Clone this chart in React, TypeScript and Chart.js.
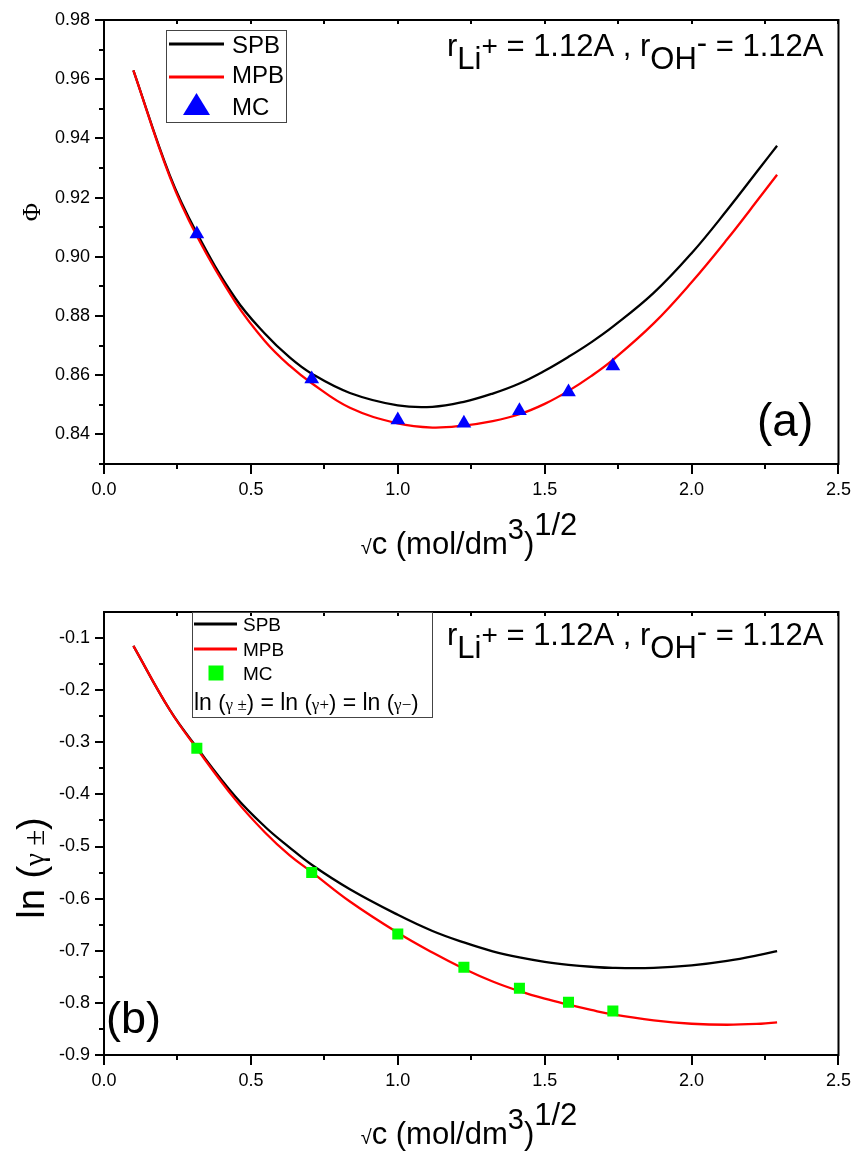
import React, { useEffect, useRef } from 'react';
import { Chart, registerables } from 'chart.js';
Chart.register(...registerables);

// ---- data ----
const sqrtC = [0.1, 0.224, 0.316, 0.447, 0.548, 0.632, 0.707, 0.837, 1.0, 1.118, 1.225, 1.323, 1.414, 1.5, 1.581, 1.658, 1.732, 1.871, 2.0, 2.121, 2.236, 2.291];
const phiSPB = [0.963, 0.9275, 0.908, 0.886, 0.874, 0.866, 0.8605, 0.854, 0.8498, 0.8493, 0.851, 0.8538, 0.8572, 0.8615, 0.8662, 0.8711, 0.8764, 0.8878, 0.9012, 0.9158, 0.9305, 0.9375];
const phiMPB = [0.963, 0.927, 0.907, 0.8847, 0.8715, 0.8632, 0.8573, 0.849, 0.8437, 0.8423, 0.843, 0.8445, 0.8468, 0.8503, 0.8547, 0.8597, 0.8652, 0.8775, 0.8914, 0.9059, 0.9206, 0.9277];
const mcX = [0.316, 0.707, 1.0, 1.225, 1.414, 1.581, 1.732];
const phiMC = [0.9077, 0.8587, 0.8449, 0.8438, 0.848, 0.8543, 0.8631];
const lnSPB = [-0.115, -0.238, -0.31, -0.404, -0.462, -0.502, -0.535, -0.582, -0.631, -0.662, -0.684, -0.701, -0.7128, -0.7212, -0.7269, -0.7307, -0.7329, -0.7328, -0.728, -0.7194, -0.7075, -0.7005];
const lnMPB = [-0.115, -0.238, -0.312, -0.41, -0.473, -0.517, -0.549, -0.6055, -0.6655, -0.7035, -0.7345, -0.759, -0.7775, -0.792, -0.8035, -0.8135, -0.8222, -0.8335, -0.84, -0.842, -0.84, -0.8375];
const lnMC = [-0.3115, -0.55, -0.6677, -0.7316, -0.772, -0.7987, -0.8154];

const xTicks = [0, 0.5, 1.0, 1.5, 2.0, 2.5];
const xMinor = [0.25, 0.75, 1.25, 1.75, 2.25];
const phiTicks = [0.84, 0.86, 0.88, 0.9, 0.92, 0.94, 0.96, 0.98];
const phiMinor = [0.83, 0.85, 0.87, 0.89, 0.91, 0.93, 0.95, 0.97];
const lnTicks = [-0.9, -0.8, -0.7, -0.6, -0.5, -0.4, -0.3, -0.2, -0.1];
const lnMinor = [-0.85, -0.75, -0.65, -0.55, -0.45, -0.35, -0.25, -0.15];

const SANS = '"Liberation Sans", Arial, sans-serif';
const SERIF = '"Liberation Serif", "Times New Roman", serif';
const f = (size: number, fam = SANS) => `${size}px ${fam}`;

type Part = { t: string; font: string; dy?: number };

function partsWidth(ctx: CanvasRenderingContext2D, parts: Part[]) {
  let w = 0;
  for (const p of parts) { ctx.font = p.font; w += ctx.measureText(p.t).width; }
  return w;
}
function drawParts(ctx: CanvasRenderingContext2D, x: number, y: number, parts: Part[], align: 'left' | 'center' | 'right' = 'left') {
  const w = partsWidth(ctx, parts);
  let cx = align === 'center' ? x - w / 2 : align === 'right' ? x - w : x;
  ctx.textAlign = 'left';
  ctx.textBaseline = 'alphabetic';
  for (const p of parts) {
    ctx.font = p.font;
    ctx.fillText(p.t, cx, y + (p.dy || 0));
    cx += ctx.measureText(p.t).width;
  }
}

const annotation: Part[] = [
  { t: 'r', font: f(31) },
  { t: 'Li', font: f(31), dy: 13 },
  { t: '+', font: f(28), dy: -1 },
  { t: ' = 1.12A , r', font: f(31) },
  { t: 'OH', font: f(31), dy: 13 },
  { t: '-', font: f(31), dy: -3 },
  { t: ' = 1.12A', font: f(31) },
];
const xTitle: Part[] = [
  { t: '√', font: f(20) },
  { t: 'c (mol/dm', font: f(31) },
  { t: '3', font: f(29), dy: -15 },
  { t: ')', font: f(31) },
  { t: '1/2', font: f(31), dy: -19 },
];

type Panel = {
  key: string;
  padTop: number;
  xAxisH: number;
  yMin: number; yMax: number;
  yTicks: number[]; yMinor: number[]; yDigits: number;
  spb: number[]; mpb: number[]; mc: number[];
  mcStyle: string; mcRadius: number; mcColor: string;
  decorate: (ctx: CanvasRenderingContext2D) => void;
};

function decorA(ctx: CanvasRenderingContext2D) {
  ctx.strokeStyle = '#444'; ctx.lineWidth = 1;
  ctx.strokeRect(166.5, 30.5, 120, 92);
  ctx.lineWidth = 3;
  ctx.strokeStyle = '#000'; ctx.beginPath(); ctx.moveTo(169, 44); ctx.lineTo(224, 44); ctx.stroke();
  ctx.strokeStyle = '#ff0000'; ctx.beginPath(); ctx.moveTo(169, 77); ctx.lineTo(224, 77); ctx.stroke();
  ctx.fillStyle = '#0000ff'; ctx.beginPath(); ctx.moveTo(183, 115); ctx.lineTo(210, 115); ctx.lineTo(196.5, 93); ctx.closePath(); ctx.fill();
  ctx.fillStyle = '#000';
  drawParts(ctx, 232, 53, [{ t: 'SPB', font: f(24) }]);
  drawParts(ctx, 232, 83, [{ t: 'MPB', font: f(24) }]);
  drawParts(ctx, 232, 115, [{ t: 'MC', font: f(24) }]);
  drawParts(ctx, 447, 56, annotation);
  drawParts(ctx, 757, 436, [{ t: '(a)', font: f(46) }]);
  drawParts(ctx, 469, 554, xTitle, 'center');
  ctx.save(); ctx.translate(32, 212); ctx.rotate(-Math.PI / 2);
  drawParts(ctx, 0, 8, [{ t: 'Φ', font: f(25, SERIF) }], 'center');
  ctx.restore();
}

function decorB(ctx: CanvasRenderingContext2D) {
  ctx.strokeStyle = '#444'; ctx.lineWidth = 1;
  ctx.strokeRect(192.5, 34.5, 240, 105);
  ctx.lineWidth = 3;
  ctx.strokeStyle = '#000'; ctx.beginPath(); ctx.moveTo(194, 46); ctx.lineTo(237, 46); ctx.stroke();
  ctx.strokeStyle = '#ff0000'; ctx.beginPath(); ctx.moveTo(194, 71); ctx.lineTo(237, 71); ctx.stroke();
  ctx.fillStyle = '#00ff00'; ctx.fillRect(208.5, 87.5, 15, 15);
  ctx.fillStyle = '#000';
  drawParts(ctx, 243, 53, [{ t: 'SPB', font: f(19) }]);
  drawParts(ctx, 243, 78, [{ t: 'MPB', font: f(19) }]);
  drawParts(ctx, 243, 102, [{ t: 'MC', font: f(19) }]);
  drawParts(ctx, 194, 132, [
    { t: 'ln ', font: f(23) }, { t: '(', font: f(22) }, { t: 'γ ±', font: f(17, SERIF) }, { t: ')', font: f(22) },
    { t: ' = ln ', font: f(23) }, { t: '(', font: f(22) }, { t: 'γ+', font: f(17, SERIF) }, { t: ')', font: f(22) },
    { t: ' = ln ', font: f(23) }, { t: '(', font: f(22) }, { t: 'γ−', font: f(17, SERIF) }, { t: ')', font: f(22) },
  ]);
  drawParts(ctx, 447, 67, annotation);
  drawParts(ctx, 106, 455, [{ t: '(b)', font: f(45) }]);
  drawParts(ctx, 469, 566, xTitle, 'center');
  ctx.save(); ctx.translate(31, 290); ctx.rotate(-Math.PI / 2);
  drawParts(ctx, 0, 13, [{ t: 'ln ', font: f(38) }, { t: '(', font: f(38) }, { t: 'γ ±', font: f(29, SERIF) }, { t: ')', font: f(38) }], 'center');
  ctx.restore();
}

const panels: Panel[] = [
  {
    key: 'a', padTop: 20, xAxisH: 114, yMin: 0.83, yMax: 0.98,
    yTicks: phiTicks, yMinor: phiMinor, yDigits: 2,
    spb: phiSPB, mpb: phiMPB, mc: phiMC,
    mcStyle: 'triangle', mcRadius: 8.5, mcColor: '#0000ff', decorate: decorA,
  },
  {
    key: 'b', padTop: 34, xAxisH: 101, yMin: -0.9, yMax: -0.05,
    yTicks: lnTicks, yMinor: lnMinor, yDigits: 1,
    spb: lnSPB, mpb: lnMPB, mc: lnMC,
    mcStyle: 'rect', mcRadius: 7.8, mcColor: '#00ff00', decorate: decorB,
  },
];

function makeConfig(p: Panel): any {
  const decor = {
    id: 'decor' + p.key,
    afterDraw(chart: any) {
      const { ctx, chartArea: a, scales } = chart;
      const xs = scales.x, ys = scales.y;
      ctx.save();
      ctx.strokeStyle = '#000';
      ctx.lineWidth = 2;
      ctx.strokeRect(a.left, a.top, a.right - a.left, a.bottom - a.top);
      ctx.beginPath();
      for (const v of xTicks) {
        const px = Math.round(xs.getPixelForValue(v));
        ctx.moveTo(px, a.bottom); ctx.lineTo(px, a.bottom + 10);
        ctx.moveTo(px, a.top); ctx.lineTo(px, a.top + 4);
      }
      for (const v of xMinor) {
        const px = Math.round(xs.getPixelForValue(v));
        ctx.moveTo(px, a.bottom); ctx.lineTo(px, a.bottom + 5);
        ctx.moveTo(px, a.top); ctx.lineTo(px, a.top + 4);
      }
      for (const v of p.yTicks) {
        const py = Math.round(ys.getPixelForValue(v));
        ctx.moveTo(a.left, py); ctx.lineTo(a.left - 9, py);
      }
      for (const v of p.yMinor) {
        const py = Math.round(ys.getPixelForValue(v));
        ctx.moveTo(a.left, py); ctx.lineTo(a.left - 5, py);
      }
      ctx.stroke();
      p.decorate(ctx);
      ctx.restore();
    },
  };
  const pts = (ys: number[], xsArr: number[]) => xsArr.map((x, i) => ({ x, y: ys[i] }));
  return {
    type: 'line',
    data: {
      datasets: [
        {
          label: 'MC', data: pts(p.mc, mcX), showLine: false,
          pointStyle: p.mcStyle, pointRadius: p.mcRadius, pointBackgroundColor: p.mcColor,
          pointBorderColor: p.mcColor, pointBorderWidth: 0, borderColor: p.mcColor, backgroundColor: p.mcColor, order: 0,
        },
        {
          label: 'MPB', data: pts(p.mpb, sqrtC), borderColor: '#ff0000', borderWidth: 2.3,
          pointRadius: 0, tension: 0.4, fill: false, order: 1,
        },
        {
          label: 'SPB', data: pts(p.spb, sqrtC), borderColor: '#000000', borderWidth: 2.3,
          pointRadius: 0, tension: 0.4, fill: false, order: 2,
        },
      ],
    },
    options: {
      animation: false,
      responsive: false,
      maintainAspectRatio: false,
      events: [],
      layout: { padding: { top: p.padTop, right: 16, left: 0, bottom: 0 } },
      plugins: { legend: { display: false }, tooltip: { enabled: false } },
      scales: {
        x: {
          type: 'linear', min: 0, max: 2.5,
          afterFit: (s: any) => { s.height = p.xAxisH; },
          afterBuildTicks: (s: any) => { s.ticks = xTicks.map((v) => ({ value: v })); },
          grid: { display: false, drawTicks: true, tickLength: 10 },
          border: { display: false },
          ticks: {
            padding: 5, color: '#000', autoSkip: false, maxRotation: 0,
            font: { family: SANS, size: 18 },
            callback: (v: any) => Number(v).toFixed(1),
          },
        },
        y: {
          type: 'linear', min: p.yMin, max: p.yMax,
          afterFit: (s: any) => { s.width = 104; },
          afterBuildTicks: (s: any) => { s.ticks = p.yTicks.map((v) => ({ value: v })); },
          grid: { display: false, drawTicks: true, tickLength: 9 },
          border: { display: false },
          ticks: {
            padding: 5, color: '#000', autoSkip: false,
            font: { family: SANS, size: 18 },
            callback: (v: any) => Number(v).toFixed(p.yDigits),
          },
        },
      },
    },
    plugins: [decor],
  };
}

function PanelChart({ panel }: { panel: Panel }) {
  const ref = useRef<HTMLCanvasElement | null>(null);
  useEffect(() => {
    if (!ref.current) return;
    const chart = new Chart(ref.current, makeConfig(panel));
    return () => chart.destroy();
  }, [panel]);
  return <canvas ref={ref} width={856} height={578} style={{ display: 'block', width: 856, height: 578 }} />;
}

export default function App() {
  return (
    <div style={{ position: 'absolute', left: 0, top: 0, width: 856, height: 1156, background: '#fff' }}>
      {panels.map((p) => <PanelChart key={p.key} panel={p} />)}
    </div>
  );
}
